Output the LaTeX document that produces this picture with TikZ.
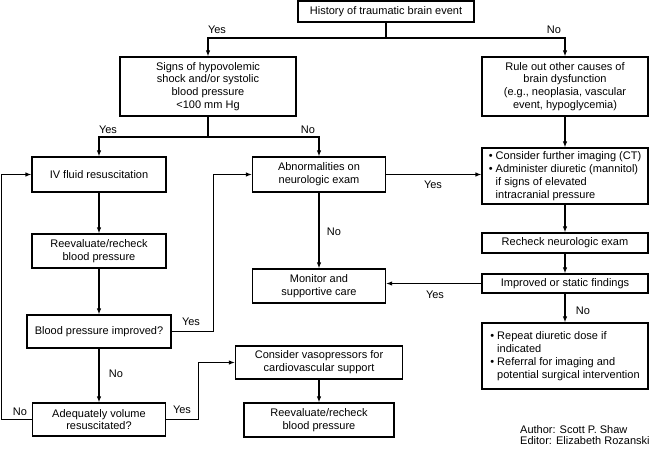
\documentclass[tikz,border=0pt]{standalone}
\usepackage{fontspec}
\setmainfont{Liberation Sans}
\usetikzlibrary{arrows.meta,positioning}

\begin{document}
\begin{tikzpicture}[x=1pt, y=-1pt,
    box/.style={rectangle, draw, line width=1.2pt, align=center, inner sep=2pt, font=\fontsize{11}{12.8}\selectfont},
    lbl/.style={inner sep=0pt, font=\fontsize{11}{12.8}\selectfont},
    arr/.style={-{Latex[length=6pt,width=4.5pt]}, line width=1.2pt}]
    \useasboundingbox (0,0) rectangle (650,449);

    % Start
    \node[box, minimum width=176pt, minimum height=21pt] (hist) at (386,11.5) {History of traumatic brain event};

    % First question
    \node[box, minimum width=176pt, minimum height=59pt] (signs) at (208,86.5) {Signs of hypovolemic\\shock and/or systolic\\blood pressure\\\textless100 mm Hg};
    \node[box, minimum width=166pt, minimum height=59pt] (rule) at (565,86.5) {Rule out other causes of\\brain dysfunction\\(e.g., neoplasia, vascular\\event, hypoglycemia)};

    % Left column
    \node[box, minimum width=134pt, minimum height=35pt] (ivfluid) at (99,174.5) {IV fluid resuscitation};
    \node[box, minimum width=134pt, minimum height=34pt] (reeval1) at (99,251) {Reevaluate/recheck\\blood pressure};
    \node[box, minimum width=144pt, minimum height=33pt] (bpimp) at (99,331.5) {Blood pressure improved?};
    \node[box, minimum width=133pt, minimum height=33pt] (adequate) at (99,419.5) {Adequately volume\\resuscitated?};

    % Middle column
    \node[box, minimum width=133pt, minimum height=35pt] (abnorm) at (319,174.5) {Abnormalities on\\neurologic exam};
    \node[box, minimum width=133pt, minimum height=34pt] (monitor) at (319,286) {Monitor and\\supportive care};
    \node[box, minimum width=167pt, minimum height=33pt] (vaso) at (319,362.5) {Consider vasopressors for\\cardiovascular support};
    \node[box, minimum width=150pt, minimum height=34pt] (reeval2) at (319,420) {Reevaluate/recheck\\blood pressure};

    % Right column
    \node[box, align=left, minimum width=166pt, minimum height=56pt] (imaging) at (565,176) {\textbullet\ Consider further imaging (CT)\\\textbullet\ Administer diuretic (mannitol)\\\hphantom{\textbullet\ }if signs of elevated\\\hphantom{\textbullet\ }intracranial pressure};
    \node[box, minimum width=166pt, minimum height=20pt] (recheck) at (565,243) {Recheck neurologic exam};
    \node[box, minimum width=166pt, minimum height=19pt] (improved) at (565,283.5) {Improved or static findings};
    \node[box, align=left, minimum width=166pt, minimum height=66pt] (repeat) at (565,356) {\textbullet\ Repeat diuretic dose if\\\hphantom{\textbullet\ }indicated\\\textbullet\ Referral for imaging and\\\hphantom{\textbullet\ }potential surgical intervention};

    % Credits
    \node[lbl, anchor=north west, align=left, font=\fontsize{11}{11.5}\selectfont] (credit) at (520,425) {Author: Scott P. Shaw\\Editor: Elizabeth Rozanski};

    % Connections from the start
    \coordinate (split1) at (386,38);
    \draw[line width=1.2pt] (hist) -- (split1);
    \draw[arr] (split1) -| (signs);
    \draw[arr] (split1) -| (rule);
    \node[lbl] (yes1) at (217,30) {Yes};
    \node[lbl] (no1) at (554,30) {No};

    \coordinate (split2) at (208,137);
    \draw[line width=1.2pt] (signs) -- (split2);
    \draw[arr] (split2) -| (ivfluid);
    \draw[arr] (split2) -| (abnorm);
    \node[lbl] (yes2) at (108,130) {Yes};
    \node[lbl] (no2) at (308,130) {No};

    % Fluid loop
    \draw[arr] (ivfluid) -- (reeval1);
    \draw[arr] (reeval1) -- (bpimp);
    \draw[arr] (bpimp) -- (adequate);
    \node[lbl] (no3) at (116,374) {No};
    \draw[arr] (bpimp.east) -- ++(42,0) |- (abnorm.west);
    \node[lbl] (yes3) at (191,322) {Yes};
    \draw[arr] (adequate.west) -- ++(-30.5,0) |- (ivfluid.west);
    \node[lbl] (no4) at (20,412) {No};
    \draw[arr] (adequate.east) -- ++(32,0) |- (vaso.west);
    \node[lbl] (yes4) at (182,410) {Yes};
    \draw[arr] (vaso) -- (reeval2);

    % Neurologic branch
    \draw[arr] (abnorm) -- (monitor);
    \node[lbl] (no5) at (334,232) {No};
    \draw[arr] (abnorm.east) -- (abnorm.east -| imaging.west);
    \node[lbl] (yes5) at (433,185) {Yes};
    \draw[arr] (rule) -- (imaging);
    \draw[arr] (imaging) -- (recheck);
    \draw[arr] (recheck) -- (improved);
    \draw[arr] (improved.west) -- (improved.west -| monitor.east);
    \node[lbl] (yes6) at (435,295) {Yes};
    \draw[arr] (improved) -- (repeat);
    \node[lbl] (no6) at (583,311) {No};
\end{tikzpicture}
\end{document}
